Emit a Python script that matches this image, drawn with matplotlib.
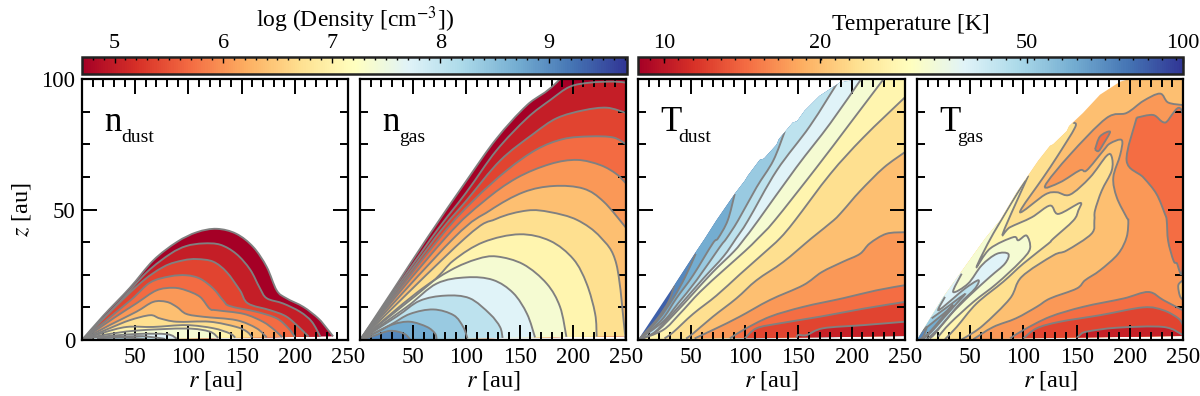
import matplotlib
matplotlib.use('Agg')
import matplotlib.pyplot as plt
from matplotlib.colors import LogNorm, Normalize
from matplotlib.cm import ScalarMappable
from matplotlib.patches import PathPatch, Polygon
from matplotlib.path import Path
from matplotlib.ticker import FixedLocator, NullFormatter
import numpy as np

plt.rcParams['font.family'] = ['Liberation Serif', 'DejaVu Serif']
plt.rcParams['mathtext.fontset'] = 'stix'

# contour levels, log density and temperature
DENS_LEVELS = [4.70, 5.03, 5.37, 5.70, 6.04, 6.37, 6.71, 7.04, 7.38, 7.71, 8.05,
               8.38, 8.72, 9.05, 9.39, 9.72]
TEMP_LEVELS = [8.91, 10.47, 12.30, 14.45, 16.98, 19.95, 23.44, 27.54, 32.36, 38.02,
               44.67, 52.48, 61.66, 72.44, 85.11, 100]

DENS_TICKS = [5, 6, 7, 8, 9]
TEMP_TICKS = [10, 20, 50, 100]
R_TICKS = [50, 100, 150, 200, 250]
Z_TICKS = [0, 50, 100]

# n_dust contours (r, z), lowest density first
ND_0 = [(20, 9.3), (45, 20), (67, 30.5), (89, 37.5), (108, 41.3), (126.6, 42.6), (145, 40.7), (161, 35.6), (173.6, 28), (183, 19), (192, 16), (208, 12.7), (222, 8.3), (230, 4.5), (236, 1.4)]
ND_1 = [(36, 15), (61, 26), (83, 33), (98, 36), (114, 37), (130, 36.5), (145, 33), (158, 27), (167, 20), (173.6, 16), (189, 14), (205, 10.8), (216, 7), (224, 1.3)]
ND_2 = [(51, 20.4), (76.5, 28), (95, 30.5), (108, 31), (123.4, 30), (136, 26), (148.5, 19), (156, 14), (177, 11.4), (192, 9), (205, 4.5), (213, 1.3)]
ND_3 = [(45, 15), (64, 22), (83, 24.4), (98, 24.8), (111, 23.5), (123.4, 19.7), (133, 15), (139, 13), (164, 10.8), (183, 8.3), (194, 4.5), (200, 1.2)]
ND_4 = [(29.5, 8.3), (51, 14), (70, 19), (86, 20), (98, 19), (111, 16.5), (120, 12), (126.6, 11.4), (152, 10), (170, 7), (181, 3.8), (188, 1.1)]
ND_5 = [(26, 5.7), (51, 10.8), (67, 14.6), (79.6, 14.6), (89, 12.7), (98, 10), (114, 8.9), (145, 7.6), (164, 4.5), (173.6, 1)]
ND_6 = [(26, 4.5), (45, 7.6), (64, 9.5), (73, 8.3), (89, 7), (120, 7), (145, 5), (155, 3.2), (160, 1)]
ND_7 = [(20, 2.8), (42, 5), (67, 5), (98, 5.7), (123.4, 4.5), (139, 2.5), (144, .9)]
ND_8 = [(20, 1.9), (51, 3.6), (98, 4.4), (120, 3.2), (128, .8)]
ND_9 = [(14, 1.1), (51, 2.3), (80, 2.2), (89, .5)]
ND_10 = [(17, .8), (51, 1.5), (70, .9), (78, .4)]
ND_11 = [(14, .6), (36, 1), (55, .5), (59, .3)]
ND_CURVES = [ND_0, ND_1, ND_2, ND_3, ND_4, ND_5, ND_6, ND_7, ND_8, ND_9, ND_10, ND_11]

# n_gas contours
NG_0 = [(30, 18.5), (63, 39), (100, 61), (128, 77), (157, 90), (188, 100), (250, 130)]
NG_1 = [(67, 39), (100, 56.6), (128, 72.5), (157, 85), (179, 92), (197, 97), (216, 98.6), (238, 99), (250, 98.6)]
NG_2 = [(70.5, 39), (100, 53.4), (131.6, 68.7), (163, 79), (185, 85), (210, 88), (232, 89), (250, 87)]
NG_3 = [(74.6, 39), (106.5, 53.4), (138, 65), (166, 73), (191, 77), (216, 78), (238, 77.6), (250, 75)]
NG_4 = [(80, 39), (116, 53), (147, 62), (178.6, 67.4), (204, 69), (226, 67), (241, 63.6), (250, 60)]
NG_5 = [(88, 39), (122, 49.6), (153.5, 56.6), (182, 59), (210, 58), (229, 53), (250, 43)]
NG_6 = [(98.7, 39), (128, 46.4), (157, 49.6), (178.6, 49), (204, 46), (226, 39.4), (241, 29), (249, 2.5), (249.5, 1.5)]
NG_7 = [(66, 21.6), (88, 30.5), (116, 37.5), (150, 40.5), (178.6, 38), (200.5, 31), (213, 21.6), (221, 10), (222.4, 1.3)]
NG_8 = [(53, 18), (85, 26.7), (110, 31), (128.5, 32), (153.5, 29), (175.5, 21.6), (188, 12.7), (194, 1.2)]
NG_9 = [(44, 12.7), (72, 21.6), (100, 24), (125, 23), (144, 18), (157, 10), (164.5, 1)]
NG_10 = [(34.5, 9), (56, 15), (80, 17), (103, 16), (122, 10), (131.6, 5), (134, .8)]
NG_11 = [(28, 5.7), (47, 10), (69, 11.7), (88, 9.5), (97, 5), (101, .6)]
NG_12 = [(17, 3.2), (31, 6), (47, 7), (63, 5), (70.5, 2.5), (72, .4)]
NG_13 = [(12.5, 1.5), (28, 3.5), (41, 2.5), (47, .3)]
NG_CURVES = [NG_0, NG_1, NG_2, NG_3, NG_4, NG_5, NG_6, NG_7, NG_8, NG_9, NG_10, NG_11, NG_12, NG_13]

# T_dust limit of the model and contours, warmest first
TD_EDGE = [(0, 0), (34, 21), (53, 33), (62.5, 38.8), (73.4, 45.8), (90.6, 56), (100, 61), (103, 63), (114, 69), (118, 69.5), (129.7, 74.8), (132, 77), (145, 83.3), (149, 83.8), (156, 87.8), (170, 93.5), (189, 98.6), (208, 100), (250, 110), (250, 1.5)]
TD_1 = [(17, 7.6), (29, 15), (34, 21)]
TD_2 = [(18.7, 7.6), (33, 16), (44, 24), (54, 33)]
TD_3 = [(22, 7.6), (36, 16), (51.6, 24.8), (70, 37), (75, 39), (84, 45.8), (90.6, 56)]
TD_4 = [(23.4, 7), (37.5, 14), (55, 23), (76.6, 35.6), (83, 39), (93.7, 45.8), (111, 58.5), (126.6, 68.7), (137.5, 80)]
TD_5 = [(14, 2.5), (26.6, 7.6), (42, 14.6), (61, 23.5), (80, 32), (92, 39), (103, 45.8), (130, 65), (161, 82), (189, 100)]
TD_6 = [(17, 3.2), (33, 9.5), (51.6, 17.8), (70, 26), (90, 34), (100, 39), (112.5, 45.8), (148, 66), (180, 83), (209, 100)]
TD_7 = [(23.4, 3.8), (39, 10), (58, 18.4), (80, 26.7), (100, 34), (112.5, 39), (128, 45.8), (167, 66), (198, 82.7), (230, 100)]
TD_8 = [(24.8, .6), (33, 3), (51.6, 10), (73.4, 17), (95, 25), (117, 33), (133, 39), (147, 45.8), (180, 63.6), (211, 77.6), (250, 93)]
TD_9 = [(45, .6), (51.6, 2.5), (70, 8.9), (92, 15.9), (111, 22.9), (136, 29.9), (162.5, 39), (183, 45.8), (192, 49.6), (207.8, 57), (230, 66), (250, 72)]
TD_10 = [(53, .6), (73.4, 4.5), (95, 8.9), (123.4, 15.3), (154.7, 21), (172, 26), (192, 30), (207.8, 33), (217, 37), (232.5, 40.7), (250, 41.3)]
TD_11 = [(86, .6), (98.4, 3.8), (123.4, 8.9), (154.7, 12.7), (192, 16), (223, 19), (250, 21)]
TD_12 = [(100, .6), (111, 4.5), (133, 6.4), (170, 8.9), (211, 12), (250, 14.6)]
TD_13 = [(148.4, .6), (150, 1.9), (158, 1.9), (173.4, 4.5), (211, 5.7), (250, 7)]
TD_CURVES = [TD_1, TD_2, TD_3, TD_4, TD_5, TD_6, TD_7, TD_8, TD_9, TD_10, TD_11, TD_12, TD_13]

# T_gas limit of the model, warm lobes and cold pockets
TG_EDGE = [(0, 0), (24.8, 16.5), (64, 38.8), (78, 45.8), (93.7, 56.6), (114, 68.7), (125, 74.4), (128, 75), (140.7, 80), (143, 82), (156, 87), (172, 94), (191, 99), (200, 100), (250, 110), (250, 1.5)]
TG_W6 = [(147, 83.3), (148.5, 81.4), (131.3, 70), (118.7, 62.3), (96.8, 49), (120.3, 55.7), (131.3, 56.6), (143.8, 55.7), (162.6, 62.3), (178.3, 70.6), (183, 70.2), (183, 64.9), (173.6, 57.2), (167.3, 49.6), (166.7, 45.8), (164, 40.7), (140.7, 34.3), (128, 32.4), (98.4, 24.2), (87.4, 15.9), (62.3, 5.7), (46.7, 1.3), (42, .3)]
TG_W7 = [(104.6, 63), (81.1, 41.3), (87.4, 43.2), (107.8, 47), (125, 51.5), (132.8, 48.3), (153.2, 52.5), (151.6, 49.6), (147, 45.8), (128, 38.8), (123.4, 36.9), (100, 29.3), (81, 22.3), (56, 14), (37.3, 5), (26.3, .3)]
TG_W8 = [(101.5, 61), (72, 41), (56, 28), (68.6, 35), (90.5, 39.4), (95.2, 38.2), (103, 40), (106.2, 35), (96.8, 29.9), (74.9, 21.6), (53, 14.6), (31, 6.4), (20, 1.3)]
TG_W9 = [(42, 25.4), (34, 18.4), (48, 21.6), (60.8, 28.6), (74.9, 33), (85.8, 33), (82.7, 29.3), (68.6, 24.2), (49.8, 17.2), (31, 9.5), (17, 2.5), (12, .6)]
TG_W10 = [(26.3, 16.5), (20, 11.4), (34, 15.9), (45, 19.7), (57.6, 22.9), (54.5, 19.7), (40.4, 14), (24.8, 6.4), (13.8, 1.9), (9, .3)]
TG_W11 = [(13.8, 8.3), (31, 13.4), (45, 17.6), (37.3, 14), (24.8, 8.3), (13.8, 3.2), (6, .4)]
TG_W12 = [(6, 3.8), (24.8, 10), (34, 13.4), (21.6, 7.6), (12.2, 3.2), (4.4, .3)]
TG_W13 = [(2, 2), (9, 5), (6, 1.5), (3, .3)]
TG_WARM = [TG_W6, TG_W7, TG_W8, TG_W9, TG_W10, TG_W11, TG_W12, TG_W13]
TG_WARM_BANDS = [6, 7, 8, 9, 10, 11, 12, 13]

TG_C4 = [(53, .3), (71.7, 5), (93, 8.3), (112.5, 12.7), (125, 15.9), (150, 19.7), (158, 22.9), (172, 26.7), (189, 33), (197, 39.4), (198.6, 45.8), (197, 47), (187.7, 54.7), (184.5, 62.3), (191, 71), (192.4, 76.6), (181.4, 75.3), (175, 72.5), (159.5, 65), (153, 65), (134.4, 60.4), (120.3, 59), (143.8, 71), (178, 85), (197, 87), (212.7, 91.6), (228.4, 94.4), (236, 91), (250, 90)]
TG_C3 = [(206.5, 85.2), (222, 86.2), (233, 83.3), (250, 85.5), (250, 29.3), (244, 29.5), (241, 30.5), (236, 38), (234.7, 45.8), (233, 48.3), (225, 56), (212.7, 62.3), (197, 68.7), (206.5, 85.2)]
TG_C3_SMALL = [(167.3, 73), (172, 78), (181.4, 79.8), (175, 75), (170.6, 72.4), (167.3, 73)]
TG_POCKET = [(250, 22.9), (245.6, 21), (247, 17), (250, 15.3)]
TG_C3_LOW = [(87.4, .6), (100, 3.8), (125, 8.9), (156, 12.7), (194, 15.9), (217.4, 18.4), (231.5, 15.3), (247, 12), (250, 11.4)]
TG_C2 = [(100, .6), (112.5, 4.5), (134.4, 7), (172, 9.5), (212.7, 12.5), (231.5, 11.4), (245.6, 8.3), (250, 5.7)]
TG_C1 = [(150, .6), (153, 1.9), (159.5, 3.2), (187.7, 4.7), (231.5, 5), (250, 1.9)]
TG_COLD = [TG_C4, TG_C3, TG_C3_SMALL, TG_POCKET, TG_C3_LOW, TG_C2, TG_C1]
TG_COLD_BANDS = [4, 3, 3, 5, 3, 2, 1]

LINE_GREY = '#808080'
FLOOR = 1.5
W, H = 1200, 396
cmap = plt.get_cmap('RdYlBu')
dens_norm = Normalize(DENS_LEVELS[0], DENS_LEVELS[-1])
temp_norm = LogNorm(TEMP_LEVELS[0], TEMP_LEVELS[-1])


def dens_color(i):
    return cmap(dens_norm(DENS_LEVELS[i]))


def temp_color(i):
    return cmap(temp_norm(TEMP_LEVELS[i]))


def px_axes(fig, x0, x1, y0, y1):
    return fig.add_axes([x0 / W, 1 - y1 / H, (x1 - x0) / W, (y1 - y0) / H])


def from_origin(curve):
    # contours leave the inner boundary unless they start on the floor
    return ([(0, 0)] + curve) if curve[0][1] > 1 else curve


def close_cold(curve):
    # everything on the large r side of the contour
    r_end, z_end = curve[-1]
    if r_end < 249 and z_end > 2:
        return [(r_end, 130), (250, 130), (250, FLOOR)]
    return [(250, FLOOR)]


def smooth_path(line, tail=(), smooth=True):
    # the outline goes through the read points, Catmull-Rom style when smooth
    pts = np.array(line, float)
    verts = [pts[0]]
    codes = [Path.MOVETO]
    n = len(pts)
    for i in range(n - 1):
        if smooth:
            before = pts[max(i - 1, 0)]
            after = pts[min(i + 2, n - 1)]
            verts += [pts[i] + (pts[i + 1] - before) / 6,
                      pts[i + 1] - (after - pts[i]) / 6, pts[i + 1]]
            codes += [Path.CURVE4] * 3
        else:
            verts.append(pts[i + 1])
            codes.append(Path.LINETO)
    for p in tail:
        verts.append(p)
        codes.append(Path.LINETO)
    return Path(verts, codes)


def paint(ax, line, tail, color, clip=None, smooth=True, draw_line=True):
    fill = PathPatch(smooth_path(line, tail, smooth), facecolor=color, edgecolor='none', zorder=1)
    ax.add_patch(fill)
    artists = [fill]
    if draw_line:
        stroke = PathPatch(smooth_path(line, smooth=smooth), facecolor='none',
                           edgecolor=LINE_GREY, lw=1.35, zorder=2)
        ax.add_patch(stroke)
        artists.append(stroke)
    if clip is not None:
        limit = Polygon(clip, closed=True, transform=ax.transData)
        for a in artists:
            a.set_clip_path(limit)


def draw_density(ax, curves):
    for i, curve in enumerate(curves):
        line = from_origin(curve)
        tail = [(250, FLOOR)] if line[-1][0] >= 249 else []
        paint(ax, line, tail, dens_color(i))


def draw_tdust(ax):
    paint(ax, TD_EDGE, [], temp_color(14), smooth=False, draw_line=False)
    for k, curve in enumerate(TD_CURVES):
        line = from_origin(curve)
        paint(ax, line, close_cold(line), temp_color(13 - k), clip=TD_EDGE)


def draw_tgas(ax):
    paint(ax, TG_EDGE, [], temp_color(5), smooth=False, draw_line=False)
    for curve, band in zip(TG_WARM, TG_WARM_BANDS):
        tail = [(0, 0), (0, curve[0][1] + 20)]
        paint(ax, curve, tail, temp_color(band), clip=TG_EDGE)
    for curve, band in zip(TG_COLD, TG_COLD_BANDS):
        tail = []
        if curve[-1][0] >= 249 and curve[0] != curve[-1] and curve is not TG_POCKET:
            tail = [(250, FLOOR)]
        paint(ax, curve, tail, temp_color(band), clip=TG_EDGE)


def style_panel(ax, name, sub, lx, sx):
    ax.set_xlim(0, 250)
    ax.set_ylim(0, 100)
    ax.set_xticks(R_TICKS)
    ax.set_xticks(np.arange(10, 250, 10), minor=True)
    ax.set_yticks(Z_TICKS)
    ax.set_yticks(np.arange(12.5, 100, 12.5), minor=True)
    ax.tick_params(which='both', direction='in', top=True, right=True, width=1.4, color='black')
    ax.tick_params(which='major', length=11, labelsize=16.5, pad=5)
    ax.tick_params(which='minor', length=5.5)
    ax.set_xlabel('$r$ [au]', fontsize=17.5, labelpad=1)
    for s in ax.spines.values():
        s.set_linewidth(1.6)
        s.set_zorder(3)
    ax.text(lx, 80, name, fontsize=25, ha='left', va='baseline')
    ax.text(sx, 76, sub, fontsize=14, ha='left', va='baseline')


def style_cbar(cb, label, ticks, labels, minor, labelpad):
    cax = cb.ax
    cb.set_ticks(ticks, labels=labels)
    cax.xaxis.set_minor_locator(FixedLocator(minor))
    cax.xaxis.set_minor_formatter(NullFormatter())
    cax.tick_params(which='both', direction='in', top=True, bottom=False, labeltop=True,
                    labelbottom=False, color='black', width=1)
    cax.tick_params(which='major', length=4, labelsize=16, pad=3)
    cax.tick_params(which='minor', length=2.2)
    cax.xaxis.set_label_position('top')
    cax.set_xlabel(label, fontsize=17, labelpad=labelpad)
    cb.outline.set_linewidth(1.8)
    cb.outline.set_edgecolor('#222222')


def main():
    fig = plt.figure(figsize=(W / 100, H / 100), dpi=100)

    ax1 = px_axes(fig, 82, 348, 79, 340)
    ax2 = px_axes(fig, 360, 626, 79, 340)
    ax3 = px_axes(fig, 638, 905, 79, 340)
    ax4 = px_axes(fig, 917, 1183, 79, 340)

    draw_density(ax1, ND_CURVES)
    draw_density(ax2, NG_CURVES)
    draw_tdust(ax3)
    draw_tgas(ax4)

    style_panel(ax1, 'n', 'dust', 21, 37)
    style_panel(ax2, 'n', 'gas', 21, 37)
    style_panel(ax3, 'T', 'dust', 21, 38)
    style_panel(ax4, 'T', 'gas', 21, 38)
    ax1.set_ylabel('$z$ [au]', fontsize=17.5, labelpad=6)
    for ax in (ax2, ax3, ax4):
        ax.tick_params(labelleft=False)

    cax1 = px_axes(fig, 82, 627, 57, 74)
    cb1 = fig.colorbar(ScalarMappable(dens_norm, cmap), cax=cax1, orientation='horizontal')
    style_cbar(cb1, r'log (Density [cm$^{-3}$])', DENS_TICKS, [str(t) for t in DENS_TICKS],
               np.arange(4.8, 9.75, 0.1), 5)

    cax2 = px_axes(fig, 638, 1183, 57, 74)
    cb2 = fig.colorbar(ScalarMappable(temp_norm, cmap), cax=cax2, orientation='horizontal')
    style_cbar(cb2, 'Temperature [K]', TEMP_TICKS, [str(t) for t in TEMP_TICKS],
               10 ** np.arange(0.973, 2.0, 0.0274), 2.5)

    fig.savefig('out.png', dpi=100)


if __name__ == '__main__':
    main()
